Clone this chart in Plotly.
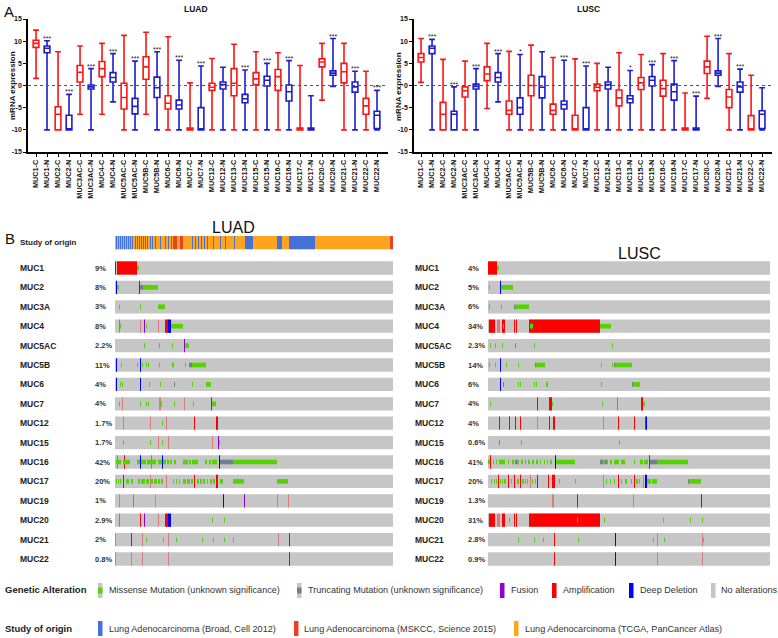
import plotly.graph_objects as go

W, H = 778, 638
def px(x): return x / W
def py(y): return 1 - y / H

# ---------------- Panel A data ----------------
cats = ["MUC1-C","MUC1-N","MUC2-C","MUC2-N","MUC3AC-C","MUC3AC-N","MUC4-C","MUC4-N",
        "MUC5AC-C","MUC5AC-N","MUC5B-C","MUC5B-N","MUC6-C","MUC6-N","MUC7-C","MUC7-N",
        "MUC12-C","MUC12-N","MUC13-C","MUC13-N","MUC15-C","MUC15-N","MUC16-C","MUC16-N",
        "MUC17-C","MUC17-N","MUC20-C","MUC20-N","MUC21-C","MUC21-N","MUC22-C","MUC22-N"]

luad_upper = [12.5,10.1,7.6,-2.0,8.9,3.8,9.5,7.2,11.3,5.5,12.0,7.6,11.0,5.7,0.6,4.4,
              6.1,4.1,9.3,3.5,7.6,5.0,7.4,5.6,4.5,-2.3,9.5,10.6,9.5,3.2,3.2,-1.1]
luad_q3 = [10.2,8.9,-4.8,-6.7,4.5,0.1,5.4,2.9,0.5,-2.9,6.5,1.9,-2.3,-3.3,-9.6,-5.0,
           0.5,0.8,3.8,-2.0,2.9,2.1,3.6,0.1,-9.6,-9.6,6.0,3.3,5.0,0.8,-2.9,-5.8]
luad_median = [9.5,8.4,-6.5,-9.8,3.0,-0.3,3.8,1.8,-2.7,-4.7,4.2,-0.5,-4.0,-4.4,-10,-10,
               -0.4,0.2,0.5,-3.0,1.5,1.2,2.0,-1.4,-10,-10,5.3,2.8,3.1,-0.3,-4.6,-6.7]
luad_q1 = [8.6,7.4,-10,-10,0.8,-0.8,2.0,0.8,-5.3,-6.4,1.4,-2.7,-5.3,-5.3,-10,-10,
           -1.1,-0.8,-2.3,-3.9,0.2,-0.1,-1.1,-3.5,-10,-10,4.2,2.3,0.6,-1.5,-6.5,-9.7]
luad_lower = [1.6,-10,-10,-10,-6.5,-10,-6.5,-3.7,-10,-10,-6.5,-10,-10,-10,-10,-10,
              -10,-10,-10,-10,-10,-10,-10,-10,-10,-10,-3.3,-0.2,-10,-10,-10,-10]
luad_stars = ["","***","","***","","***","","***","","***","","***","","***","","***",
              "","","","***","","***","","***","","","","***","","***","","***"]

lusc_upper = [10.6,10.4,5.9,-0.3,5.5,3.8,9.5,7.2,7.7,7.0,9.1,7.6,6.3,5.7,6.0,4.4,
              5.0,4.1,7.4,3.4,7.0,4.7,7.2,5.6,-1.7,-2.4,11.1,10.6,7.2,3.7,2.3,-0.5]
lusc_q3 = [7.2,8.9,-3.8,-5.8,-0.3,0.3,4.2,2.9,-3.5,-2.8,2.3,2.0,-4.2,-3.5,-6.7,-5.0,
           0.3,0.8,-1.0,-2.3,1.8,2.0,1.2,0.3,-9.6,-9.6,5.5,3.3,-0.9,0.8,-6.8,-5.7]
lusc_median = [6.3,8.4,-6.5,-6.5,-1.2,-0.2,2.6,1.8,-5.6,-5.0,0.0,-0.4,-5.6,-4.3,-10,-10,
               -0.4,0.2,-2.8,-3.0,0.6,1.2,-0.7,-1.4,-10,-10,4.2,2.8,-2.6,-0.3,-10,-6.5]
lusc_q1 = [5.3,7.2,-10,-10,-2.6,-0.8,1.1,0.8,-6.5,-6.5,-2.3,-2.8,-6.5,-5.3,-10,-10,
           -1.2,-0.8,-4.6,-3.9,-0.9,-0.1,-2.4,-3.3,-10,-10,2.7,2.3,-5.0,-1.5,-10,-9.7]
lusc_lower = [0.7,-10,-10,-10,-10,-10,-5.2,-3.7,-10,-10,-10,-10,-10,-10,-10,-10,
              -10,-10,-10,-10,-10,-10,-10,-10,-10,-10,-2.9,-0.2,-10,-10,-10,-10]
lusc_stars = ["","***","","***","","***","","***","","*","","","","***","","***",
              "","","","*","","***","","***","","***","","***","","***","",""]

y_ticks = [-15, -10, -5, 0, 5, 10, 15]

# ---------------- Panel B data ----------------
genes = ["MUC1","MUC2","MUC3A","MUC4","MUC5AC","MUC5B","MUC6","MUC7","MUC12","MUC15",
         "MUC16","MUC17","MUC19","MUC20","MUC21","MUC22"]
luad_pct = ["9%","8%","3%","8%","2.2%","11%","4%","4%","1.7%","1.7%","42%","20%","1%","2.9%","2%","0.8%"]
lusc_pct = ["4%","5%","6%","34%","2.3%","14%","6%","4%","4%","0.6%","41%","20%","1.3%","31%","2.8%","0.9%"]
luad_n_samples = 278
lusc_n_samples = 282

# alteration runs per gene: (type, first sample, number of samples)
luad_alts = {
 "MUC1": [("fus",0,1),("amp",2,20),("mis",22,2)],
 "MUC2": [("del",1,1),("mis",2,2),("fus",24,1),("trunc",25,3),("mis",28,15)],
 "MUC3A": [("mis",4,1),("mis",25,1),("mis",43,7)],
 "MUC4": [("delL",4,1),("mis",5,1),("ampL",25,1),("fus",29,1),("mis",31,1),("ampL",43,1),
          ("amp",50,3),("del",53,3),("mis",56,12)],
 "MUC5AC": [("mis",29,1),("mis",44,1),("mis",57,1),("fus",69,1),("mis",70,4)],
 "MUC5B": [("del",1,1),("mis",6,1),("mis",22,1),("del",25,1),("mis",27,1),("mis",31,1),("mis",33,1),
           ("mis",44,1),("mis",57,2),("mis",70,1),("trunc",74,3),("mis",77,14)],
 "MUC6": [("del",1,1),("mis",5,1),("mis",7,1),("del",25,1),("mis",34,1),("mis",45,1),("trunc",59,1),
          ("mis",77,1),("mis",91,5)],
 "MUC7": [("mis",4,1),("ampL",7,1),("mis",25,1),("mis",31,1),("mis",33,1),("ampL",44,2),("mis",45,2),
          ("mis",59,1),("ampL",69,1),("mis",78,1),("amp",96,1),("mis",97,4)],
 "MUC12": [("ampL",8,1),("ampL",35,1),("mis",47,1),("ampL",51,1),("amp",79,1),("amp",101,2)],
 "MUC15": [("mis",8,1),("mis",35,1),("ampL",43,1),("mis",47,1),("ampL",53,1),("ampL",97,1),
           ("fus",103,1),("mis",104,1)],
 "MUC16": [("mis",1,5),("mis",8,7),("amp",9,1),("delL",2,1),("mis",22,3),("mis",26,5),("del",25,1),
           ("mis",32,9),("delL",36,1),("mis",43,4),("mis",48,3),("mis",52,2),("mis",55,2),("mis",59,2),
           ("del",47,1),("mis",68,5),("mis",74,2),("mis",77,6),("mis",90,2),("mis",94,2),("mis",97,5),
           ("del",104,1),("trunc",105,13),("mis",118,44)],
 "MUC17": [("mis",1,1),("mis",3,1),("mis",5,1),("mis",11,3),("mis",16,2),("amp",8,1),
           ("mis",23,2),("mis",26,4),("mis",31,3),("mis",36,2),("mis",39,3),("mis",43,2),("mis",46,2),
           ("ampL",35,1),("ampL",51,1),("mis",58,1),("mis",61,1),("mis",64,1),("mis",68,3),("mis",72,3),
           ("mis",76,2),("amp",79,1),("mis",82,2),("mis",85,2),("mis",88,2),("mis",92,1),("mis",95,2),
           ("mis",98,2),("amp",101,2),("mis",105,3),("mis",118,11),("mis",162,11)],
 "MUC19": [("ampL",4,1),("delL",18,1),("ampL",40,1),("del",108,1),("fus",129,1),("ampL",162,1),("ampL",173,1)],
 "MUC20": [("delL",4,1),("amp",25,1),("fus",29,1),("ampL",43,1),("amp",50,3),("del",53,3),
           ("mis",97,1),("mis",109,1)],
 "MUC21": [("ampL",0,1),("amp",16,1),("ampL",27,1),("mis",31,1),("mis",48,1),("ampL",53,1),("mis",61,1),
           ("mis",87,1),("mis",98,1),("mis",109,1),("mis",118,1),("ampL",163,1),("amp",174,1)],
 "MUC22": [("ampL",0,1),("ampL",16,1),("ampL",27,1),("ampL",53,1),("amp",174,1)],
}

lusc_alts = {
 "MUC1": [("amp",0,9),("mis",9,2)],
 "MUC2": [("mis",1,1),("del",12,1),("mis",13,12)],
 "MUC3A": [("mis",1,1),("mis",13,1),("trunc",26,1),("mis",27,14)],
 "MUC4": [("amp",1,6),("ampL",9,3),("amp",14,3),("mis",15,1),("amp",26,1),("amp",28,1),
          ("amp",41,71),("mis",42,3),("mis",112,11)],
 "MUC5AC": [("mis",2,1),("mis",7,1),("mis",14,1),("trunc",27,1),("mis",46,1),("mis",124,1)],
 "MUC5B": [("mis",1,1),("mis",7,1),("del",12,1),("mis",18,1),("mis",30,1),("trunc",47,1),("mis",48,9),
           ("mis",113,1),("mis",124,1),("trunc",126,1),("mis",127,17)],
 "MUC6": [("del",12,1),("trunc",15,1),("mis",30,1),("mis",32,1),("mis",46,1),("mis",48,1),("mis",58,2),
          ("mis",113,1),("trunc",144,1),("mis",145,7)],
 "MUC7": [("mis",2,1),("amp",49,1),("amp",61,3),("mis",64,1),("mis",114,1),("delL",129,1),
          ("amp",153,2),("mis",155,2)],
 "MUC12": [("amp",11,1),("amp",21,1),("amp",27,1),("amp",32,1),("ampL",49,1),("amp",61,1),("amp",65,2),
           ("ampL",115,1),("amp",130,1),("amp",146,1),("amp",157,1),("del",158,1)],
 "MUC15": [("trunc",11,1),("mis",33,1),("mis",131,1)],
 "MUC16": [("mis",0,2),("amp",2,1),("mis",5,1),("mis",8,1),("mis",11,6),("mis",20,1),("mis",24,2),
           ("trunc",27,2),("mis",29,2),("mis",33,2),("mis",37,1),("mis",40,2),("mis",44,2),("mis",48,2),
           ("mis",52,1),("mis",56,1),("mis",59,1),("mis",62,2),("del",67,1),("mis",68,19),
           ("trunc",112,3),("mis",115,2),("trunc",117,2),("mis",119,1),("mis",122,2),("mis",126,5),
           ("mis",133,4),("mis",146,1),("mis",152,3),("mis",156,4),("amp",161,1),("trunc",162,7),
           ("mis",169,31)],
 "MUC17": [("mis",3,1),("mis",6,1),("mis",8,1),("mis",12,1),("mis",14,1),("mis",16,2),("amp",10,1),
           ("amp",20,1),("mis",23,1),("amp",26,1),("mis",29,2),("amp",32,1),("mis",34,2),("mis",37,1),
           ("mis",39,1),("ampL",42,1),("mis",44,1),("mis",47,1),("amp",49,1),("amp",60,1),("amp",64,3),
           ("mis",71,1),("mis",87,1),("ampL",115,1),("mis",118,1),("mis",122,1),("mis",126,1),
           ("amp",130,1),("mis",133,1),("mis",137,2),("mis",143,1),("amp",146,1),("mis",148,2),
           ("mis",151,1),("ampL",155,1),("del",157,2),("mis",159,4),("mis",164,5),("trunc",200,1),
           ("mis",201,12)],
 "MUC19": [("ampL",64,2),("amp",89,1),("ampL",145,1),("fus",213,1)],
 "MUC20": [("amp",1,6),("ampL",9,3),("amp",14,3),("mis",21,1),("amp",26,1),("amp",28,1),("amp",41,71),
           ("mis",89,1),("mis",116,1),("mis",175,1),("mis",202,1),("mis",214,1)],
 "MUC21": [("mis",30,1),("mis",46,1),("mis",55,1),("amp",66,1),("mis",90,1),("del",127,1),("mis",165,1),
           ("ampL",169,1),("mis",176,1),("ampL",214,1),("mis",215,1)],
 "MUC22": [("amp",66,1),("del",127,1),("ampL",169,1),("ampL",214,1)],
}

# study of origin runs for LUAD samples: (study, first sample, number of samples)
luad_study = [("TCGA",0,278)] + [("Broad",s,1) for s in
              [1,3,5,7,9,11,13,15,17,20,22,24,26,28,30,32,35,37,40,45,50,53,56,77,80,83,86,89,92,98,105,110,119]] + \
             [("MSKCC",58,4),("MSKCC",65,3),("Broad",130,8),("Broad",162,5),("Broad",174,26),("MSKCC",275,3)]

alt_legend = ["Missense Mutation (unknown significance)", "Truncating Mutation (unknown significance)",
              "Fusion", "Amplification", "Deep Deletion", "No alterations"]
study_legend = ["Lung Adenocarcinoma (Broad, Cell 2012)", "Lung Adenocarcinoma (MSKCC, Science 2015)",
                "Lung Adenocarcinoma (TCGA, PanCancer Atlas)"]

# ---------------- styling ----------------
RED, BLUE = "#ff1414", "#1c1cd2"
ALT_COL = {"mis": "#53d400", "trunc": "#708090", "fus": "#8f00d6", "amp": "#ff0000",
           "ampL": "rgba(255,0,0,0.38)", "del": "#0000ff", "delL": "rgba(0,0,255,0.38)"}
ALT_FULL = {"mis": False, "trunc": False, "fus": True, "amp": True, "ampL": True, "del": True, "delL": True}
STUDY_COL = {"Broad": "#4472d8", "MSKCC": "#e8412a", "TCGA": "#ffa41f"}
GRAY = "#c6c6c6"
FONT = "Liberation Sans, Arial, sans-serif"

fig = go.Figure()

# ---------------- Panel A boxes ----------------
panels = [
    ("x", "y", luad_upper, luad_q3, luad_median, luad_q1, luad_lower, luad_stars),
    ("x2", "y2", lusc_upper, lusc_q3, lusc_median, lusc_q1, lusc_lower, lusc_stars),
]
annotations = []
shapes = []
for xa, ya, up, q3, med, q1, lo, stars in panels:
    for parity, col in ((0, RED), (1, BLUE)):
        idx = [i for i in range(len(cats)) if i % 2 == parity]
        fig.add_trace(go.Box(
            x=[cats[i] for i in idx], q1=[q1[i] for i in idx], median=[med[i] for i in idx],
            q3=[q3[i] for i in idx], lowerfence=[lo[i] for i in idx], upperfence=[up[i] for i in idx],
            xaxis=xa, yaxis=ya, line=dict(color=col, width=1.6), fillcolor="rgba(0,0,0,0)",
            whiskerwidth=1, width=0.52, boxpoints=False, showlegend=False, hoverinfo="skip"))
    for i, s in enumerate(stars):
        if s:
            annotations.append(dict(x=cats[i], y=up[i], xref=xa, yref=ya, text=s, showarrow=False,
                                    yanchor="bottom", yshift=-3, font=dict(size=7, color="#222", family=FONT)))
    shapes.append(dict(type="line", xref=xa + " domain", yref=ya, x0=0, x1=1, y0=0, y1=0,
                       line=dict(color="#555", width=1, dash="dot")))

# ---------------- Panel B oncoprints ----------------
TRACK_W, MUT_W, STUDY_Y = 0.686, 0.24, -1.31
for xa, ya, alts, n in (("x3", "y3", luad_alts, luad_n_samples), ("x4", "y4", lusc_alts, lusc_n_samples)):
    fig.add_trace(go.Bar(orientation="h", y=list(range(len(genes))), x=[n] * len(genes),
                         base=[0] * len(genes), width=TRACK_W, marker=dict(color=GRAY, line=dict(width=0)),
                         xaxis=xa, yaxis=ya, showlegend=False, hoverinfo="skip"))
    for t in ["ampL", "delL", "amp", "del", "fus", "trunc", "mis"]:
        ys, xs, bs = [], [], []
        for gi, g in enumerate(genes):
            for tt, s, ln in alts.get(g, []):
                if tt == t:
                    ys.append(gi); xs.append(ln); bs.append(s)
        if ys:
            fig.add_trace(go.Bar(orientation="h", y=ys, x=xs, base=bs,
                                 width=TRACK_W if ALT_FULL[t] else MUT_W,
                                 marker=dict(color=ALT_COL[t], line=dict(width=0)),
                                 xaxis=xa, yaxis=ya, showlegend=False, hoverinfo="skip"))

# study of origin bar (LUAD)
for st in ["TCGA", "Broad", "MSKCC"]:
    runs = [(s, ln) for k, s, ln in luad_study if k == st]
    fig.add_trace(go.Bar(orientation="h", y=[STUDY_Y] * len(runs), x=[r[1] for r in runs],
                         base=[r[0] for r in runs], width=0.68,
                         marker=dict(color=STUDY_COL[st], line=dict(width=0)),
                         xaxis="x3", yaxis="y3", showlegend=False, hoverinfo="skip"))

for xlab, xpct, ya, pcts in ((18, 93, "y3", luad_pct), (413, 466, "y4", lusc_pct)):
    for gi, g in enumerate(genes):
        annotations.append(dict(x=px(xlab), xref="paper", y=gi, yref=ya, text=g, showarrow=False,
                                xanchor="left", font=dict(size=8.5, color="#222", family=FONT, weight="bold")))
        annotations.append(dict(x=px(xpct), xref="paper", y=gi, yref=ya, text=pcts[gi], showarrow=False,
                                xanchor="left", font=dict(size=7.5, color="#333", family=FONT, weight="bold")))
annotations.append(dict(x=px(18), xref="paper", y=STUDY_Y, yref="y3", text="Study of origin", showarrow=False,
                        xanchor="left", font=dict(size=8, color="#222", family=FONT, weight="bold")))

# ---------------- titles / panel letters ----------------
def txt(x, y, t, size, bold=False, color="#111", anchor="center", angle=0):
    annotations.append(dict(x=px(x), y=py(y), xref="paper", yref="paper", text=t, showarrow=False,
                            xanchor=anchor, yanchor="middle", textangle=angle,
                            font=dict(size=size, color=color, family=FONT, weight="bold" if bold else "normal")))

txt(2, 11, "A", 15, anchor="left")
txt(196, 9, "LUAD", 8.5, bold=True)
txt(588, 9, "LUSC", 8.5, bold=True)
txt(12, 86, "mRNA expression", 8, bold=True, angle=-90)
txt(398, 86, "mRNA expression", 8, bold=True, angle=-90)
txt(3, 238, "B", 15, anchor="left")
txt(234, 228, "LUAD", 16)
txt(639, 254, "LUSC", 16)

# ---------------- legends ----------------
txt(3, 589, "Genetic Alteration", 9.5, bold=True, color="#222", anchor="left")
txt(3, 628, "Study of origin", 9.5, bold=True, color="#222", anchor="left")
alt_sw = [(98, "mis"), (297, "trunc"), (500, "fus"), (552, "amp"), (629, "del"), (711, None)]
alt_tx = [107, 306, 509, 561, 638, 719]
for (sx, t), tx, lab in zip(alt_sw, alt_tx, alt_legend):
    full = t is None or ALT_FULL[t]
    shapes.append(dict(type="rect", xref="paper", yref="paper", x0=px(sx), x1=px(sx + 4.5),
                       y0=py(598), y1=py(583), fillcolor=GRAY if (t is None or not full) else ALT_COL[t],
                       line=dict(width=0)))
    if t is not None and not full:
        shapes.append(dict(type="rect", xref="paper", yref="paper", x0=px(sx), x1=px(sx + 4.5),
                           y0=py(593.5), y1=py(587.5), fillcolor=ALT_COL[t], line=dict(width=0)))
    txt(tx, 590, lab, 9.1, color="#333", anchor="left")
st_sw = [(98, "Broad"), (294, "MSKCC"), (514, "TCGA")]
st_tx = [107, 302, 523]
for (sx, st), tx, lab in zip(st_sw, st_tx, study_legend):
    shapes.append(dict(type="rect", xref="paper", yref="paper", x0=px(sx), x1=px(sx + 4.5),
                       y0=py(636), y1=py(621), fillcolor=STUDY_COL[st], line=dict(width=0)))
    txt(tx, 629, lab, 9.1, color="#333", anchor="left")

# ---------------- axes ----------------
ydom_box = [py(152), py(19)]
box_x_common = dict(type="category", categoryorder="array", categoryarray=cats, tickangle=-90,
                    tickfont=dict(size=7.3, family=FONT, color="#111", weight="bold"),
                    showline=True, linecolor="black", linewidth=1.6, ticks="outside", ticklen=3,
                    tickwidth=1, tickcolor="black", showgrid=False, zeroline=False, automargin=False)
box_y_common = dict(range=[-15, 15], tickvals=y_ticks, ticktext=[str(v) for v in y_ticks],
                    tickfont=dict(size=7, family=FONT, color="#111", weight="bold"),
                    showline=True, linecolor="black", linewidth=1.6, ticks="outside", ticklen=3,
                    tickwidth=1, tickcolor="black", showgrid=False, zeroline=False, domain=ydom_box,
                    automargin=False)
hidden = dict(showgrid=False, zeroline=False, showticklabels=False, showline=False, ticks="",
              automargin=False)
ydom_onc = [py(575), py(225)]
yrange_onc = [(575 - 268) / 19.4, (225 - 268) / 19.4]

fig.update_layout(
    width=W, height=H, margin=dict(l=0, r=0, t=0, b=0, pad=0, autoexpand=False),
    paper_bgcolor="white", plot_bgcolor="white",
    boxmode="overlay", barmode="overlay",
    font=dict(family=FONT),
    xaxis=dict(domain=[px(28), px(388)], range=[-0.73, 32.0], anchor="y", **box_x_common),
    yaxis=dict(anchor="x", **box_y_common),
    xaxis2=dict(domain=[px(414), px(772)], range=[-0.64, 31.9], anchor="y2", **box_x_common),
    yaxis2=dict(anchor="x2", **box_y_common),
    xaxis3=dict(domain=[px(115), px(393)], range=[0, luad_n_samples], anchor="y3", **hidden),
    yaxis3=dict(domain=ydom_onc, range=yrange_onc, anchor="x3", **hidden),
    xaxis4=dict(domain=[px(488), px(770)], range=[0, lusc_n_samples], anchor="y4", **hidden),
    yaxis4=dict(domain=ydom_onc, range=yrange_onc, anchor="x4", **hidden),
    annotations=annotations, shapes=shapes,
)

fig.write_html("out.html", config={"displayModeBar": False},
               post_script="document.body.style.margin='0px';")
